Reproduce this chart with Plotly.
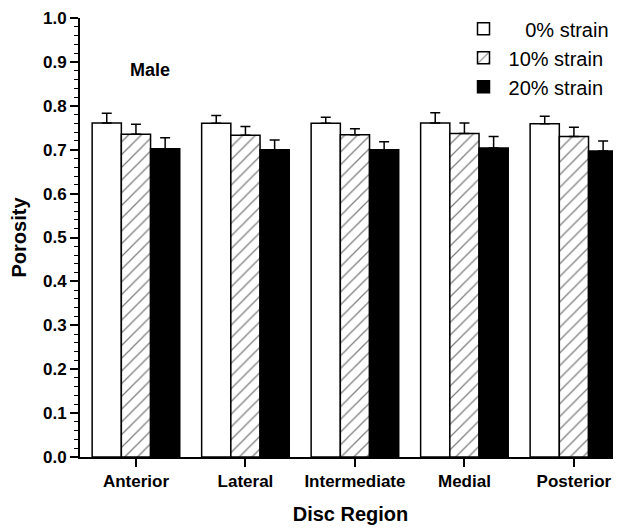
import plotly.graph_objects as go

regions = ["Anterior", "Lateral", "Intermediate", "Medial", "Posterior"]
strain_0 = [0.761, 0.760, 0.760, 0.761, 0.759]
strain_0_err = [0.022, 0.018, 0.014, 0.023, 0.017]
strain_10 = [0.735, 0.733, 0.734, 0.737, 0.730]
strain_10_err = [0.023, 0.020, 0.014, 0.024, 0.021]
strain_20 = [0.702, 0.700, 0.700, 0.704, 0.697]
strain_20_err = [0.025, 0.022, 0.018, 0.026, 0.023]
y_ticks = [0.0, 0.1, 0.2, 0.3, 0.4, 0.5, 0.6, 0.7, 0.8, 0.9, 1.0]

FONT = "Liberation Sans, Arial, sans-serif"

def err(arr):
    return dict(type="data", array=arr, arrayminus=[0] * len(arr), symmetric=False,
                color="black", thickness=1.5, width=5)

fig = go.Figure()
fig.add_trace(go.Bar(x=regions, y=strain_0, name="\u00a0\u00a0\u00a00% strain",
                     marker=dict(color="white", line=dict(color="black", width=1.5)),
                     error_y=err(strain_0_err)))
fig.add_trace(go.Bar(x=regions, y=strain_10, name="10% strain",
                     marker=dict(color="white", line=dict(color="black", width=1.5),
                                 pattern=dict(shape="/", fgcolor="black", bgcolor="white",
                                              size=9, solidity=0.14)),
                     error_y=err(strain_10_err)))
fig.add_trace(go.Bar(x=regions, y=strain_20, name="20% strain",
                     marker=dict(color="black", line=dict(color="black", width=1.5)),
                     error_y=err(strain_20_err)))

fig.update_layout(
    width=613, height=523,
    margin=dict(l=72, r=0, t=10, b=74),
    paper_bgcolor="white", plot_bgcolor="white",
    barmode="group", bargap=0.2, bargroupgap=0,
    font=dict(family=FONT, color="black"),
    showlegend=True,
    legend=dict(x=0.988, xanchor="right", y=1.02, yanchor="top",
                font=dict(size=20, family=FONT, color="black"),
                bgcolor="rgba(0,0,0,0)", tracegroupgap=0, itemwidth=40),
    xaxis=dict(range=[-0.511, 4.43], showline=True, linecolor="black", linewidth=2,
               ticks="outside", ticklen=8, tickwidth=1.5, tickcolor="black",
               tickfont=dict(size=17, family=FONT, weight="bold"),
               title=dict(text="Disc Region", font=dict(size=20, family=FONT, weight="bold"),
                          standoff=17),
               showgrid=False, zeroline=False),
    yaxis=dict(range=[0, 1], tickvals=y_ticks, ticktext=[f"{v:.1f}" for v in y_ticks],
               showline=True, linecolor="black", linewidth=2,
               ticks="outside", ticklen=8, tickwidth=1.5, tickcolor="black",
               minor=dict(dtick=0.02, ticks="outside", ticklen=4, tickwidth=1.2, tickcolor="black"),
               tickfont=dict(size=17, family=FONT, weight="bold"),
               title=dict(text="Porosity", font=dict(size=20, family=FONT, weight="bold"),
                          standoff=12),
               showgrid=False, zeroline=False),
    annotations=[dict(text="Male", x=0.0887, y=0.881, xref="paper", yref="y",
                      showarrow=False, xanchor="left", yanchor="middle",
                      font=dict(size=18, family=FONT, weight="bold", color="black"))],
)

fig.write_html("out.html")
